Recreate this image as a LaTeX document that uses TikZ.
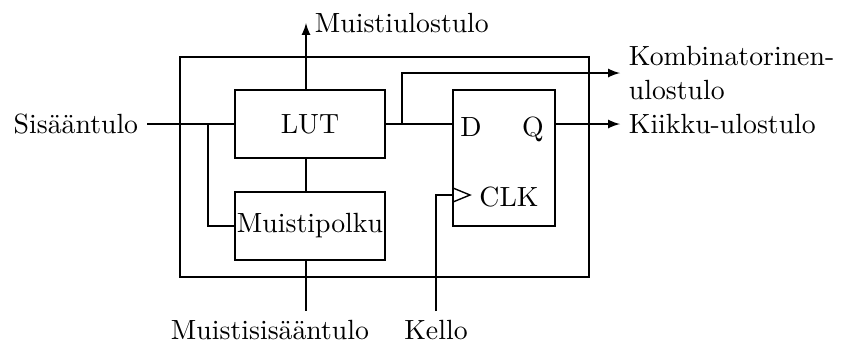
\documentclass[tikz,border=0pt]{standalone}
\usetikzlibrary{arrows}
\begin{document}
\begin{tikzpicture}[x=0.36pt,y=-0.36pt,
  blk/.style={draw,line width=0.5pt,inner sep=0pt,minimum width=54pt,minimum height=24.48pt},
  ffbox/.style={draw,line width=0.5pt,inner sep=0pt,minimum width=36.72pt,minimum height=48.96pt},
  outer/.style={draw,line width=1pt,inner sep=0pt,minimum width=147.24pt,minimum height=79.2pt},
  wire/.style={line width=0.5pt},
  arr/.style={wire,-latex},
  lbl/.style={inner sep=3pt}]
\useasboundingbox (0,0) rectangle (842,344);
\node[outer] (chip) at (384.5,167) {};
\node[blk] (lut) at (310,124) {LUT};
\node[blk] (mem) at (310,226) {Muistipolku};
\node[ffbox] (ff) at (504,158) {};
\node[anchor=base] (dl) at (471,136) {D};
\node[anchor=base] (ql) at (533,136) {Q};
\node[anchor=base] (clkl) at (509,206) {CLK};
\draw[wire] (453,188) -- (470,195) -- (453,202);
\coordinate (inL) at (147,124);
\coordinate (br) at (208,124);
\coordinate (mo) at (306,23);
\coordinate (mi) at (306,311);
\coordinate (j) at (402,124);
\coordinate (ko) at (620,73);
\coordinate (kk) at (620,124);
\coordinate (ke) at (436,311);
\coordinate (clkin) at (453,195);
% labels
\node[lbl,anchor=east] (sisl) at (inL) {Sis\"a\"antulo};
\node[lbl,anchor=west] (mol) at (mo) {Muistiulostulo};
\node[lbl,anchor=west,align=left] (kol) at (ko) {Kombinatorinen-\\ulostulo};
\node[lbl,anchor=west] (kkl) at (kk) {Kiikku-ulostulo};
\node[lbl,anchor=north] (mil) at (270,311) {Muistisis\"a\"antulo};
\node[lbl,anchor=north] (kel) at (ke) {Kello};
% wires
\draw[wire] (inL) -- (lut.west);
\draw[wire] (br) |- (mem.west);
\draw[arr] (lut.north -| mo) -- (mo);
\draw[wire] (mem.north -| mo) -- (lut.south -| mo);
\draw[wire] (mem.south -| mo) -- (mi);
\draw[wire] (lut.east) -- (ff.west |- lut.east);
\draw[arr] (j) |- (ko);
\draw[arr] (ff.east |- lut.east) -- (kk);
\draw[wire] (ke) |- (clkin);
\end{tikzpicture}
\end{document}
